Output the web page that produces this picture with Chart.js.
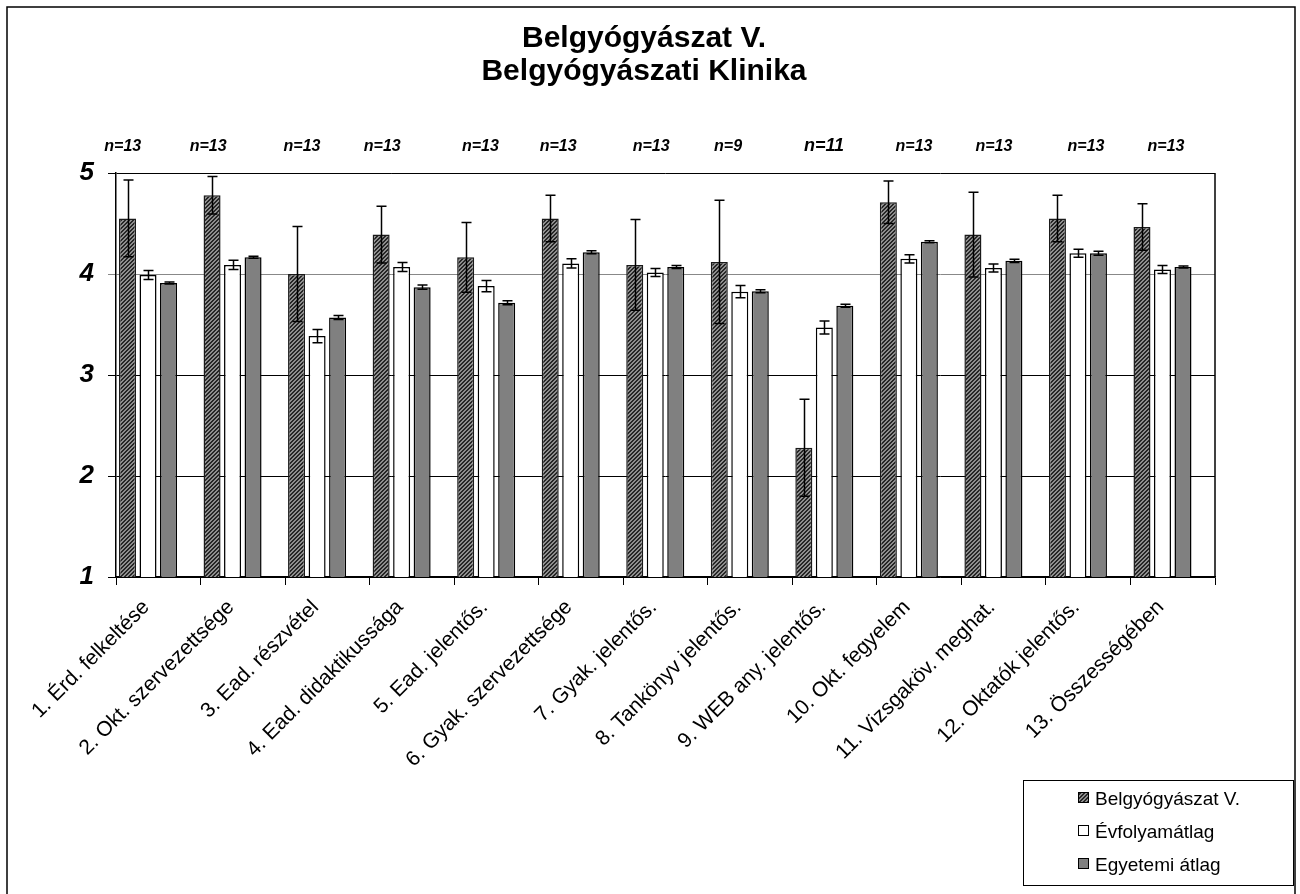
<!DOCTYPE html>
<html>
<head>
<meta charset="utf-8">
<script src="https://cdn.jsdelivr.net/npm/chart.js@4.4.1/dist/chart.umd.min.js"></script>
<style>
  html, body { margin: 0; padding: 0; background: #fff; }
  #wrap { width: 1300px; height: 894px; position: relative; }
</style>
</head>
<body>
<div id="wrap"><canvas id="c" width="1300" height="894"></canvas></div>
<script>
// ---- data ----
const categories = [
  '1. Érd. felkeltése', '2. Okt. szervezettsége', '3. Ead. részvétel',
  '4. Ead. didaktikussága', '5. Ead. jelentős.', '6. Gyak. szervezettsége',
  '7. Gyak. jelentős.', '8. Tankönyv jelentős.', '9. WEB any. jelentős.',
  '10. Okt. fegyelem', '11. Vizsgaköv. meghat.', '12. Oktatók jelentős.', '13. Összességében'
];
const seriesNames = ['Belgyógyászat V.', 'Évfolyamátlag', 'Egyetemi átlag'];
const belgyValues = [4.55, 4.78, 4.00, 4.39, 4.165, 4.55, 4.09, 4.12, 2.28, 4.71, 4.39, 4.55, 4.465];
const belgyErrors = [0.38, 0.185, 0.47, 0.28, 0.345, 0.23, 0.45, 0.61, 0.48, 0.21, 0.42, 0.23, 0.23];
const evfValues   = [3.99, 4.09, 3.385, 4.07, 3.88, 4.105, 4.015, 3.825, 3.47, 4.15, 4.06, 4.205, 4.045];
const evfErrors   = [0.045, 0.045, 0.065, 0.045, 0.055, 0.045, 0.04, 0.06, 0.065, 0.04, 0.04, 0.04, 0.04];
const egyValues   = [3.91, 4.165, 3.57, 3.87, 3.715, 4.215, 4.07, 3.83, 3.685, 4.32, 4.13, 4.205, 4.07];
const egyErrors   = [0.01, 0.01, 0.02, 0.02, 0.02, 0.015, 0.015, 0.015, 0.015, 0.01, 0.015, 0.02, 0.01];
const nLabels = ['n=13','n=13','n=13','n=13','n=13','n=13','n=13','n=9','n=11','n=13','n=13','n=13','n=13'];
const yTicks = [1, 2, 3, 4, 5];
const titleLines = ['Belgyógyászat V.', 'Belgyógyászati Klinika'];

// ---- layout (not data) ----
const nLabelShift = [-0.42, -0.41, -0.30, -0.35, -0.19, -0.27, -0.17, -0.26, -0.125, -0.06, -0.115, -0.026, -0.08];
const nLabelBig = [false,false,false,false,false,false,false,false,true,false,false,false,false];
const FONT = "'Liberation Sans', Arial, sans-serif";

// hatch pattern
function makeHatch() {
  const c = document.createElement('canvas');
  c.width = 4; c.height = 4;
  const g = c.getContext('2d');
  for (let x = 0; x < 4; x++) for (let y = 0; y < 4; y++) {
    g.fillStyle = ((x + y) % 4 < 2) ? '#262626' : '#8e8e8e';
    g.fillRect(x, y, 1, 1);
  }
  return g.createPattern(c, 'repeat');
}
const ctx = document.getElementById('c').getContext('2d');
const hatch = makeHatch();

const errorSets = [belgyErrors, evfErrors, egyErrors];

const errorBarPlugin = {
  id: 'errbars',
  afterDatasetsDraw(chart) {
    const g = chart.ctx, ys = chart.scales.y;
    g.save();
    g.strokeStyle = '#000';
    g.lineWidth = 1.5;
    errorSets.forEach((errs, di) => {
      const meta = chart.getDatasetMeta(di);
      const vals = chart.data.datasets[di].data;
      meta.data.forEach((el, i) => {
        const v = vals[i], e = errs[i];
        if (v == null) return;
        const x = Math.round(el.x) + 0.5;
        const yt = ys.getPixelForValue(v + e), yb = ys.getPixelForValue(v - e);
        g.beginPath();
        g.moveTo(x, yt); g.lineTo(x, yb);
        g.moveTo(x - 5, yt); g.lineTo(x + 5, yt);
        g.moveTo(x - 5, yb); g.lineTo(x + 5, yb);
        g.stroke();
      });
    });
    g.restore();
  }
};

const decorPlugin = {
  id: 'decor',
  afterDraw(chart) {
    const g = chart.ctx, a = chart.chartArea, xs = chart.scales.x;
    g.save();
    // outer frame
    g.strokeStyle = '#000'; g.lineWidth = 1.5;
    g.strokeRect(7, 7, 1288, 1000);
    // plot right border
    g.beginPath(); g.moveTo(a.right, a.top); g.lineTo(a.right, a.bottom); g.lineWidth = 1.5; g.stroke();
    // title
    g.fillStyle = '#000';
    g.textAlign = 'center'; g.textBaseline = 'alphabetic';
    g.font = 'bold 30px ' + FONT;
    g.fillText(titleLines[0], 644, 47);
    g.fillText(titleLines[1], 644, 80);
    // n labels
    const step = xs.getPixelForValue(1) - xs.getPixelForValue(0);
    nLabels.forEach((t, i) => {
      g.font = 'bold italic ' + (nLabelBig[i] ? 18 : 16) + 'px ' + FONT;
      g.fillText(t, xs.getPixelForValue(i) + nLabelShift[i] * step, 151);
    });
    // category labels (rotated 45°)
    g.font = '21px ' + FONT;
    g.textAlign = 'right'; g.textBaseline = 'middle';
    chart.data.labels.forEach((t, i) => {
      g.save();
      g.translate(xs.getPixelForValue(i) - 12, a.bottom + 27);
      g.rotate(-Math.PI / 4);
      g.fillText(t, 0, 0);
      g.restore();
    });
    // legend
    const lx = 1023.5, ly = 780.5, lw = 270, lh = 105;
    g.fillStyle = '#fff'; g.fillRect(lx, ly, lw, lh);
    g.strokeStyle = '#000'; g.lineWidth = 1; g.strokeRect(lx, ly, lw, lh);
    g.textAlign = 'left'; g.textBaseline = 'alphabetic'; g.font = '19px ' + FONT;
    chart.data.datasets.slice(0, seriesNames.length).forEach((ds, i) => {
      const by = 805 + i * 33;
      g.fillStyle = ds.backgroundColor;
      g.fillRect(1078, by - 12, 10, 10);
      g.strokeStyle = '#000'; g.lineWidth = 1;
      g.strokeRect(1078.5, by - 12.5, 10, 10);
      g.fillStyle = '#000';
      g.fillText(ds.label, 1095, by);
    });
    g.restore();
  }
};

new Chart(ctx, {
  type: 'bar',
  data: {
    labels: categories,
    datasets: [
      { label: seriesNames[0], data: belgyValues, backgroundColor: hatch, borderColor: '#1a1a1a', borderWidth: 1.5 },
      { label: seriesNames[1], data: evfValues, backgroundColor: '#ffffff', borderColor: '#000', borderWidth: 1.5 },
      { label: seriesNames[2], data: egyValues, backgroundColor: '#808080', borderColor: '#000', borderWidth: 1.5 },
      // empty 4th slot, as in the original layout where bars sit left of centre
      { label: '', data: categories.map(() => null), backgroundColor: 'rgba(0,0,0,0)', borderWidth: 0 }
    ]
  },
  options: {
    responsive: false,
    animation: false,
    datasets: { bar: { categoryPercentage: 0.97, barPercentage: 0.83 } },
    layout: { padding: { top: 173, right: 85, left: 0, bottom: 0 } },
    plugins: { legend: { display: false }, title: { display: false }, tooltip: { enabled: false } },
    scales: {
      x: {
        grid: { drawOnChartArea: false, color: '#000', tickLength: 8, lineWidth: 1 },
        border: { color: '#000', width: 1.5 },
        ticks: { display: false },
        afterFit(s) { s.height = 317; }
      },
      y: {
        min: 1, max: 5,
        afterBuildTicks(s) { s.ticks = yTicks.map(v => ({ value: v })); },
        grid: { color: c => (c.tick && c.tick.value === 4) ? '#888888' : '#000000', lineWidth: 1, tickLength: 8 },
        border: { color: '#000', width: 1.5 },
        ticks: { color: '#000', padding: 14, font: { family: FONT, size: 26, weight: 'bold', style: 'italic' } },
        afterFit(s) { s.width = 116; }
      }
    }
  },
  plugins: [errorBarPlugin, decorPlugin]
});
</script>
</body>
</html>
